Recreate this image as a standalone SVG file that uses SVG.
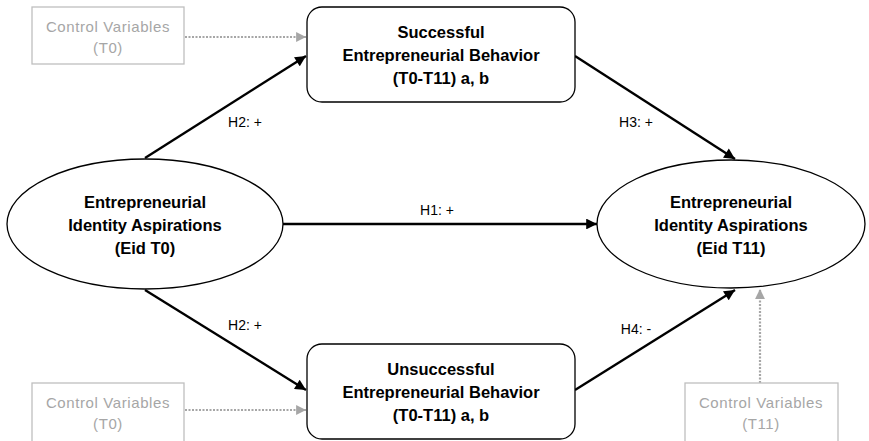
<svg xmlns="http://www.w3.org/2000/svg" width="869" height="441" viewBox="0 0 869 441">
<style>
.node{fill:#fff;stroke:#000;stroke-width:1.3}
.ctrl{fill:#fff;stroke:#bfbfbf;stroke-width:1.3}
.bt{font-family:"Liberation Sans",Arial,sans-serif;font-weight:bold;font-size:16.5px;fill:#000;text-anchor:middle}
.ct{font-family:"Liberation Sans",Arial,sans-serif;font-size:15px;letter-spacing:0.6px;fill:#a6a6a6;text-anchor:middle}
.lab{font-family:"Liberation Sans",Arial,sans-serif;font-size:14px;fill:#000;text-anchor:middle}
.arr{stroke:#000;stroke-width:2.4;fill:none;marker-end:url(#ah)}
.dot{stroke:#a6a6a6;stroke-width:2.2;stroke-dasharray:2 1.5;fill:none;marker-end:url(#ag)}
</style>
<defs>
<marker id="ah" viewBox="0 0 10 10" refX="10" refY="5" markerWidth="5" markerHeight="4.5" markerUnits="strokeWidth" orient="auto">
<path d="M0,0 L10,5 L0,10 z" fill="#000"/>
</marker>
<marker id="ag" viewBox="0 0 10 10" refX="10" refY="5" markerWidth="5" markerHeight="4.5" markerUnits="strokeWidth" orient="auto">
<path d="M0,0 L10,5 L0,10 z" fill="#a6a6a6"/>
</marker>
</defs>
<g id="connectors">
<line class="arr" x1="145" y1="158" x2="306" y2="56"/>
<line class="arr" x1="575" y1="56" x2="735" y2="159"/>
<line class="arr" x1="283" y1="224" x2="597" y2="224"/>
<line class="arr" x1="145" y1="290" x2="306" y2="390"/>
<line class="arr" x1="575" y1="390" x2="735" y2="290"/>
<line class="dot" x1="185" y1="37" x2="306" y2="37"/>
<line class="dot" x1="185" y1="410" x2="306" y2="410"/>
<line class="dot" x1="760" y1="383" x2="760" y2="289"/>
<text class="lab" x="245" y="127">H2: +</text>
<text class="lab" x="636" y="127">H3: +</text>
<text class="lab" x="437" y="215">H1: +</text>
<text class="lab" x="245" y="330">H2: +</text>
<text class="lab" x="636" y="334">H4: -</text>
</g>
<g id="ctrl-top">
<rect class="ctrl" x="32" y="7" width="152" height="57"/>
<text class="ct" x="108" y="32">Control Variables</text>
<text class="ct" x="108" y="53">(T0)</text>
</g>
<g id="success">
<rect class="node" x="307" y="7" width="268" height="95" rx="15"/>
<text class="bt" x="441" y="38">Successful</text>
<text class="bt" x="441" y="61">Entrepreneurial Behavior</text>
<text class="bt" x="441" y="84">(T0-T11) a, b</text>
</g>
<g id="eid-t0">
<ellipse class="node" cx="145" cy="224" rx="138" ry="65"/>
<text class="bt" x="145" y="208">Entrepreneurial</text>
<text class="bt" x="145" y="231">Identity Aspirations</text>
<text class="bt" x="145" y="254">(Eid T0)</text>
</g>
<g id="eid-t11">
<ellipse class="node" cx="731" cy="224" rx="134" ry="64"/>
<text class="bt" x="731" y="208">Entrepreneurial</text>
<text class="bt" x="731" y="231">Identity Aspirations</text>
<text class="bt" x="731" y="254">(Eid T11)</text>
</g>
<g id="unsuccess">
<rect class="node" x="307" y="344" width="268" height="95" rx="15"/>
<text class="bt" x="441" y="375">Unsuccessful</text>
<text class="bt" x="441" y="398">Entrepreneurial Behavior</text>
<text class="bt" x="441" y="421">(T0-T11) a, b</text>
</g>
<g id="ctrl-bottom-left">
<rect class="ctrl" x="32" y="383" width="152" height="60"/>
<text class="ct" x="108" y="408">Control Variables</text>
<text class="ct" x="108" y="429">(T0)</text>
</g>
<g id="ctrl-bottom-right">
<rect class="ctrl" x="685" y="383" width="153" height="60"/>
<text class="ct" x="761" y="408">Control Variables</text>
<text class="ct" x="761" y="429">(T11)</text>
</g>
</svg>
